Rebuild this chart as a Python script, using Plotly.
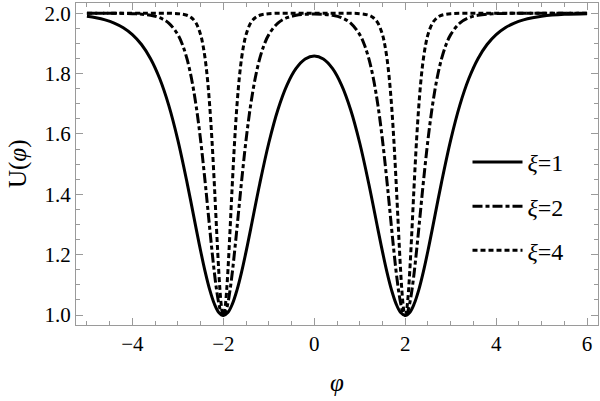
import plotly.graph_objects as go

# ---- data ----
phi_xi1 = [-5.0, -4.8, -4.6, -4.4, -4.2, -4.0, -3.8, -3.6, -3.4, -3.2, -3.0, -2.8, -2.6,
           -2.5, -2.4, -2.3, -2.2, -2.1, -2.0, -1.9, -1.8, -1.7, -1.6, -1.5, -1.4,
           -1.2, -1.0, -0.8, -0.6, -0.4, -0.2, 0.0,
           0.2, 0.4, 0.6, 0.8, 1.0, 1.2,
           1.4, 1.5, 1.6, 1.7, 1.8, 1.9, 2.0, 2.1, 2.2, 2.3, 2.4, 2.5, 2.6,
           2.8, 3.0, 3.2, 3.4, 3.6, 3.8, 4.0, 4.2, 4.4, 4.6, 4.8, 5.0, 5.5, 6.0]
U_xi1 = [1.9901, 1.9853, 1.9782, 1.9676, 1.9521, 1.9293, 1.8964, 1.8494, 1.7836, 1.6948, 1.5798, 1.4406, 1.2881,
         1.2131, 1.1438, 1.0842, 1.0381, 1.0088, 0.9987, 1.0083, 1.0370, 1.0825, 1.1414, 1.2100, 1.2840,
         1.4343, 1.5701, 1.6803, 1.7620, 1.8171, 1.8485, 1.8586,
         1.8485, 1.8171, 1.7620, 1.6803, 1.5701, 1.4343,
         1.2840, 1.2100, 1.1414, 1.0825, 1.0370, 1.0083, 0.9987, 1.0088, 1.0381, 1.0842, 1.1438, 1.2131, 1.2881,
         1.4406, 1.5798, 1.6948, 1.7836, 1.8494, 1.8964, 1.9293, 1.9521, 1.9676, 1.9782, 1.9853, 1.9901, 1.9964, 1.9987]

phi_xi2 = [-5.0, -4.5, -4.0, -3.6, -3.4, -3.2, -3.0,
           -2.9, -2.8, -2.7, -2.6, -2.5, -2.4,
           -2.35, -2.3, -2.25, -2.2, -2.15, -2.1, -2.05, -2.0, -1.95, -1.9, -1.85, -1.8, -1.75, -1.7, -1.65, -1.6,
           -1.5, -1.4, -1.3, -1.2, -1.1, -1.0,
           -0.8, -0.6, -0.4, -0.2, 0.0,
           0.2, 0.4, 0.6, 0.8,
           1.0, 1.1, 1.2, 1.3, 1.4, 1.5,
           1.6, 1.65, 1.7, 1.75, 1.8, 1.85, 1.9, 1.95, 2.0, 2.05, 2.1, 2.15, 2.2, 2.25, 2.3, 2.35, 2.4,
           2.5, 2.6, 2.7, 2.8, 2.9, 3.0,
           3.2, 3.4, 3.6, 4.0, 4.5, 5.0, 6.0]
U_xi2 = [2.0000, 1.9998, 1.9987, 1.9934, 1.9852, 1.9675, 1.9293,
         1.8964, 1.8495, 1.7838, 1.6950, 1.5800, 1.4409,
         1.3653, 1.2885, 1.2136, 1.1444, 1.0849, 1.0390, 1.0099, 1.0000, 1.0099, 1.0390, 1.0849, 1.1444, 1.2136, 1.2885, 1.3653, 1.4409,
         1.5800, 1.6950, 1.7838, 1.8495, 1.8964, 1.9293,
         1.9675, 1.9852, 1.9931, 1.9964, 1.9973,
         1.9964, 1.9931, 1.9852, 1.9675,
         1.9293, 1.8964, 1.8495, 1.7838, 1.6950, 1.5800,
         1.4409, 1.3653, 1.2885, 1.2136, 1.1444, 1.0849, 1.0390, 1.0099, 1.0000, 1.0099, 1.0390, 1.0849, 1.1444, 1.2136, 1.2885, 1.3653, 1.4409,
         1.5800, 1.6950, 1.7838, 1.8495, 1.8964, 1.9293,
         1.9675, 1.9852, 1.9934, 1.9987, 1.9998, 2.0000, 2.0000]

phi_xi4 = [-5.0, -4.0, -3.5, -3.0, -2.8, -2.7, -2.6, -2.5,
           -2.45, -2.4, -2.35, -2.3, -2.25, -2.2,
           -2.175, -2.15, -2.125, -2.1, -2.075, -2.05, -2.025, -2.0, -1.975, -1.95, -1.925, -1.9, -1.875, -1.85, -1.825,
           -1.8, -1.75, -1.7, -1.65, -1.6, -1.55, -1.5,
           -1.4, -1.3, -1.2, -1.0, -0.5, 0.0,
           0.5, 1.0, 1.2, 1.3, 1.4, 1.5,
           1.55, 1.6, 1.65, 1.7, 1.75, 1.8,
           1.825, 1.85, 1.875, 1.9, 1.925, 1.95, 1.975, 2.0, 2.025, 2.05, 2.075, 2.1, 2.125, 2.15, 2.175,
           2.2, 2.25, 2.3, 2.35, 2.4, 2.45, 2.5,
           2.6, 2.7, 2.8, 3.0, 3.5, 4.0, 5.0, 6.0]
U_xi4 = [2.0000, 2.0000, 2.0000, 1.9987, 1.9934, 1.9852, 1.9675, 1.9293,
         1.8964, 1.8495, 1.7838, 1.6950, 1.5800, 1.4409,
         1.3653, 1.2885, 1.2136, 1.1444, 1.0849, 1.0390, 1.0099, 1.0000, 1.0099, 1.0390, 1.0849, 1.1444, 1.2136, 1.2885, 1.3653,
         1.4409, 1.5800, 1.6950, 1.7838, 1.8495, 1.8964, 1.9293,
         1.9675, 1.9852, 1.9934, 1.9987, 2.0000, 2.0000,
         2.0000, 1.9987, 1.9934, 1.9852, 1.9675, 1.9293,
         1.8964, 1.8495, 1.7838, 1.6950, 1.5800, 1.4409,
         1.3653, 1.2885, 1.2136, 1.1444, 1.0849, 1.0390, 1.0099, 1.0000, 1.0099, 1.0390, 1.0849, 1.1444, 1.2136, 1.2885, 1.3653,
         1.4409, 1.5800, 1.6950, 1.7838, 1.8495, 1.8964, 1.9293,
         1.9675, 1.9852, 1.9934, 1.9987, 2.0000, 2.0000, 2.0000, 2.0000]

series_names = ["<i>ξ</i>=1", "<i>ξ</i>=2", "<i>ξ</i>=4"]
x_ticks = [-4, -2, 0, 2, 4, 6]
y_ticks = [1.0, 1.2, 1.4, 1.6, 1.8, 2.0]

# ---- figure ----
FONT = "Liberation Serif"
AX = "#9a9a9a"
dashes = ["solid", "10px,3px,4px,3px", "5px,3px"]
xs = [phi_xi1, phi_xi2, phi_xi4]
ys = [U_xi1, U_xi2, U_xi4]

fig = go.Figure()
for i in range(3):
    fig.add_trace(go.Scatter(
        x=xs[i], y=ys[i], mode="lines", name=series_names[i], legendgroup="g%d" % i,
        line=dict(color="black", width=3, dash=dashes[i], shape="spline"),
    ))

axis_common = dict(
    ticks="inside", ticklen=7, tickwidth=1, tickcolor=AX,
    showline=True, linecolor=AX, linewidth=1, mirror="ticks",
    showgrid=False, zeroline=False,
    tickfont=dict(family=FONT, size=21, color="black"),
)
fig.update_layout(
    width=600, height=401,
    margin=dict(l=76, r=2, t=3, b=76),
    paper_bgcolor="white", plot_bgcolor="white",
    font=dict(family=FONT, color="black"),
    xaxis=dict(range=[-5.24, 6.24], tickvals=x_ticks,
               minor=dict(dtick=0.5, ticks="inside", ticklen=4, tickcolor=AX, showgrid=False),
               **axis_common),
    yaxis=dict(range=[0.967, 2.034], tickvals=y_ticks, tickformat=".1f",
               minor=dict(dtick=0.05, ticks="inside", ticklen=4, tickcolor=AX, showgrid=False),
               **axis_common),
    showlegend=True,
    legend=dict(x=0.75, y=0.575, xanchor="left", yanchor="top",
                bgcolor="rgba(0,0,0,0)", font=dict(family=FONT, size=24, color="black"),
                tracegroupgap=10, itemwidth=50),
    annotations=[
        dict(text="<i>φ</i>", xref="paper", yref="paper", x=0.5, y=-0.18,
             xanchor="center", yanchor="middle", showarrow=False,
             font=dict(family=FONT, size=25, color="black")),
        dict(text="U(<i>φ</i>)", xref="paper", yref="paper", x=-0.111, y=0.5,
             xanchor="center", yanchor="middle", textangle=-90, showarrow=False,
             font=dict(family=FONT, size=25, color="black")),
    ],
)
fig.write_html("out.html")
